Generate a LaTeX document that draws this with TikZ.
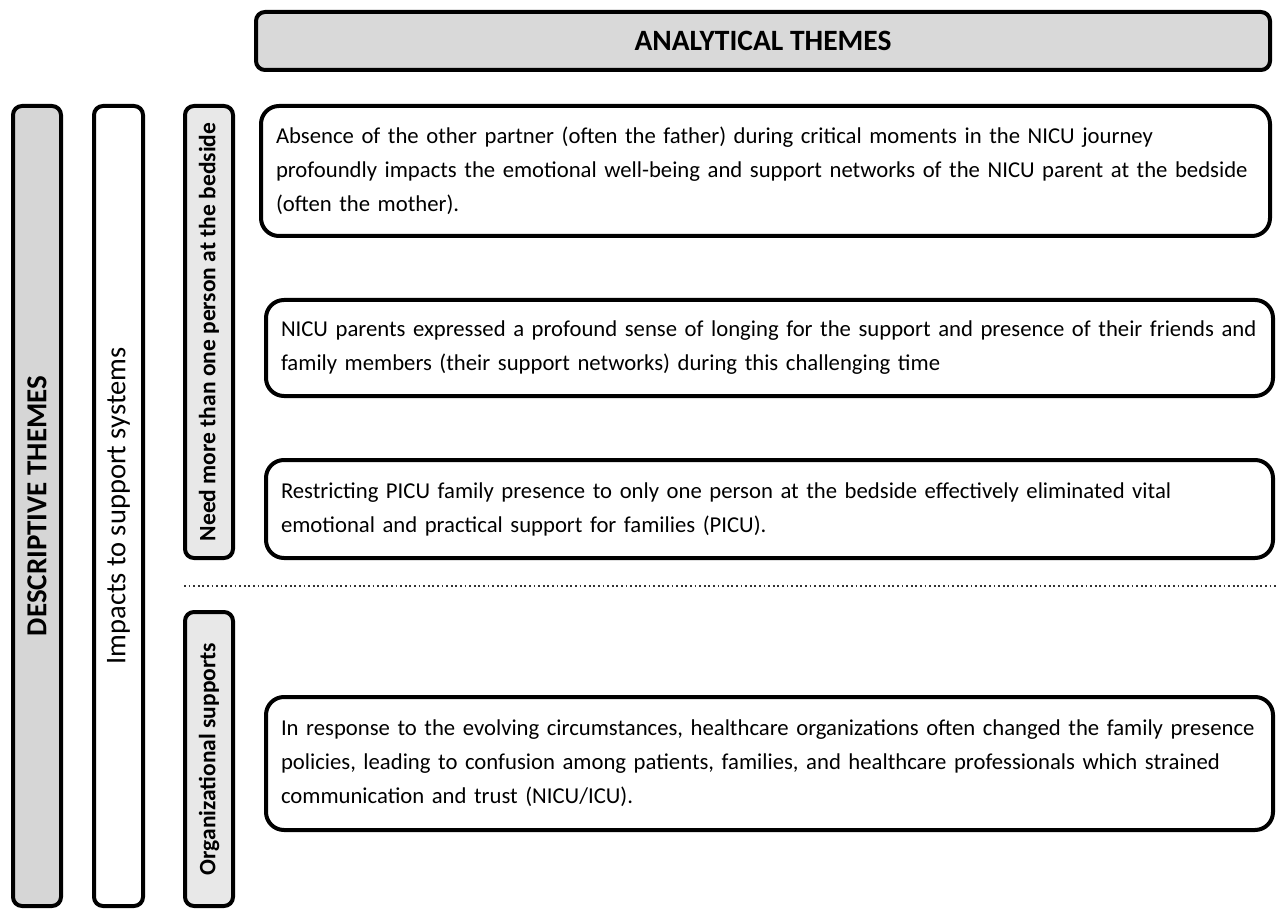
\documentclass[tikz,border=0pt]{standalone}
\usepackage{fontspec}
\setmainfont{Carlito}
\begin{document}
\begin{tikzpicture}[x=1pt,y=-1pt,
  frame/.style={draw=black, line width=4pt, rounded corners=9pt},
  head/.style={frame, fill=gray!30, inner sep=0pt,
    font=\fontsize{29.5}{32}\selectfont\bfseries},
  band/.style={frame, rotate=90, inner sep=0pt},
  item/.style={draw=black, line width=4pt, rounded corners=18pt, fill=white,
    align=left, inner xsep=15pt, inner ysep=0pt,
    font=\fontsize{22.7}{34}\selectfont},
  sepline/.style={draw=black!80, line width=1.8pt, dash pattern=on 1.8pt off 2.8pt}]

% page background and frame of the figure
\fill[white] (0,0) rectangle (1277,909);
\useasboundingbox (0,0) rectangle (1277,909);

% heading of the analytical themes
\node[head, minimum width=1014pt, minimum height=58pt] (analytical) at (763,41)
  {ANALYTICAL THEMES};

% descriptive theme columns
\node[band, fill=gray!32, minimum width=800pt, minimum height=48pt,
  font=\fontsize{29}{32}\selectfont\bfseries] (descriptive) at (37,506)
  {DESCRIPTIVE THEMES};
\node[band, fill=white, minimum width=800pt, minimum height=49pt,
  font=\fontsize{28.5}{32}\selectfont] (impacts) at (118.5,506)
  {Impacts to support systems};
\node[band, fill=gray!18, minimum width=452pt, minimum height=48pt,
  font=\fontsize{23.5}{28}\selectfont\bfseries] (bedside) at (209,332)
  {Need more than one person at the bedside};
\node[band, fill=gray!18, minimum width=294pt, minimum height=48pt,
  font=\fontsize{23.5}{28}\selectfont\bfseries] (organizational) at (209,759)
  {Organizational supports};

% analytical theme statements
\node[item, text width=979pt, minimum height=130pt] (absence) at (765.5,171)
  {\mbox{Absence of the other partner (often the father) during critical moments in the NICU journey}\\
   \mbox{profoundly impacts the emotional well-being and support networks of the NICU parent at the bedside}\\
   \mbox{(often the mother).}};
\node[item, text width=977pt, minimum height=96pt] (longing) at (769.5,348)
  {\mbox{NICU parents expressed a profound sense of longing for the support and presence of their friends and}\\
   \mbox{family members (their support networks) during this challenging time}};
\node[item, text width=977pt, minimum height=98pt] (restricting) at (769.5,509)
  {\mbox{Restricting PICU family presence to only one person at the bedside effectively eliminated vital}\\
   \mbox{emotional and practical support for families (PICU).}};
\node[item, text width=977pt, minimum height=133pt] (policies) at (769.5,763.5)
  {\mbox{In response to the evolving circumstances, healthcare organizations often changed the family presence}\\
   \mbox{policies, leading to confusion among patients, families, and healthcare professionals which strained}\\
   \mbox{communication and trust (NICU/ICU).}};

% dotted divider between the two groups
\coordinate (sepL) at (184,586);
\coordinate (sepR) at (1277,586);
\draw[sepline] (sepL) -- (sepR);
\end{tikzpicture}
\end{document}
